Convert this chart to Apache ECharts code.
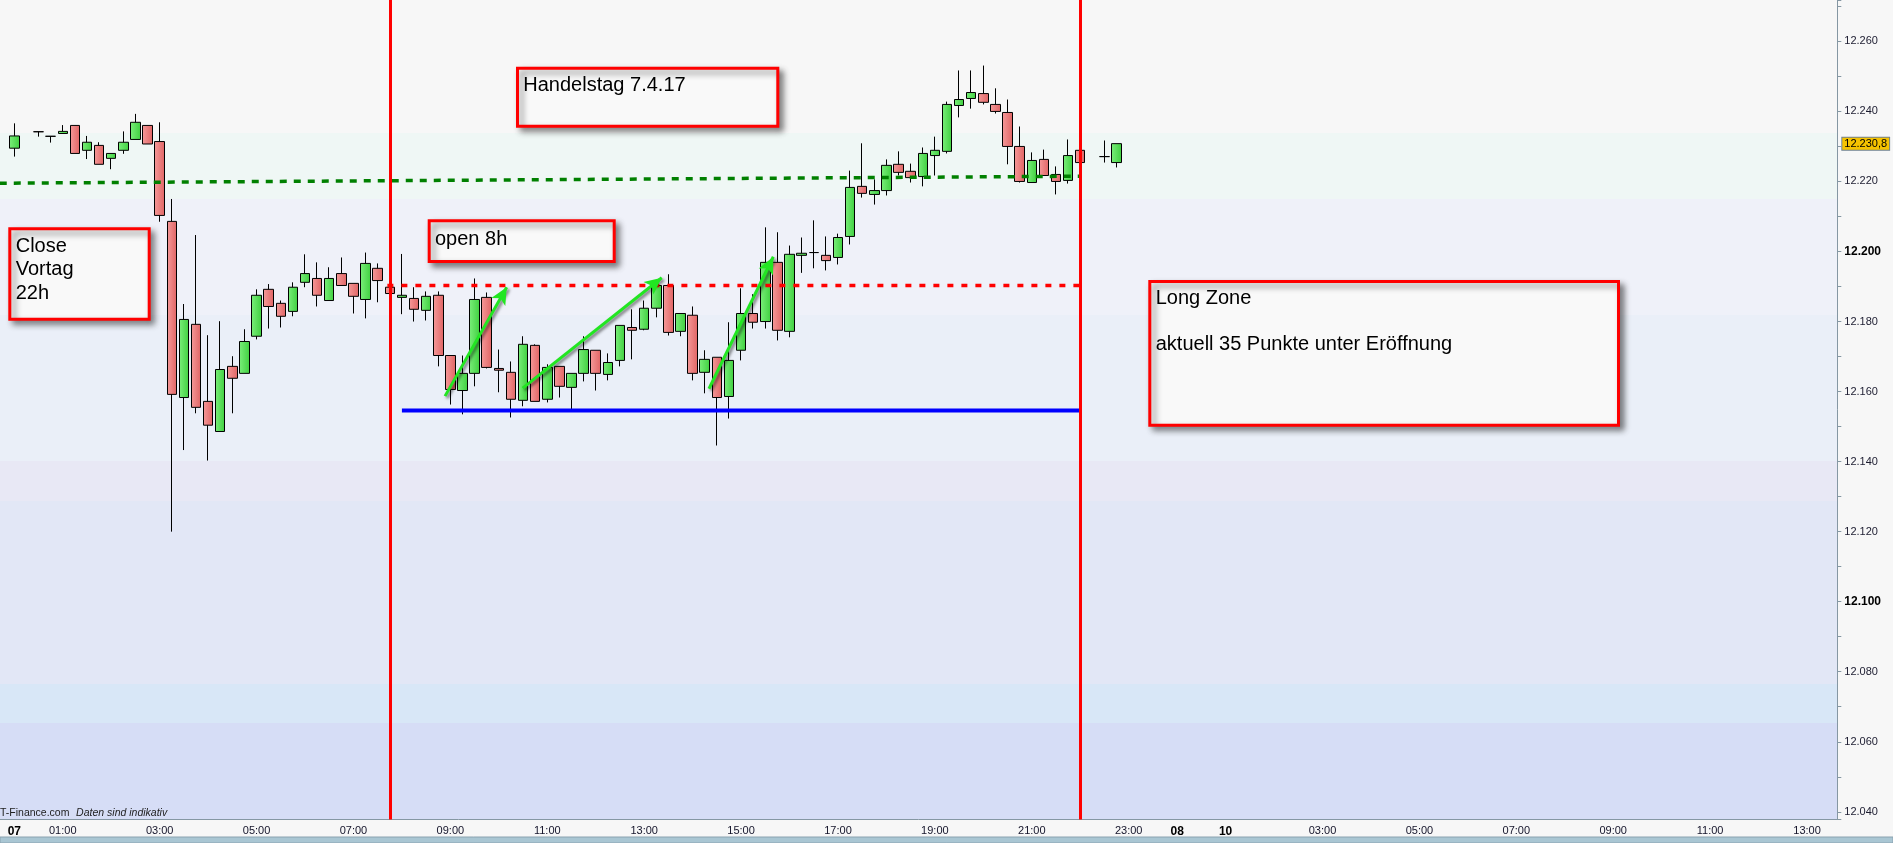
<!DOCTYPE html>
<html>
<head>
<meta charset="utf-8">
<title>Handelstag 7.4.17</title>
<script src="https://cdn.jsdelivr.net/npm/echarts@6/dist/echarts.min.js"></script>
<style>
  html, body { margin: 0; padding: 0; background: #f7f7f7; }
  #chart { width: 1893px; height: 843px; }
</style>
</head>
<body>
<div id="chart"></div>
<script>
// 15-Minuten-Kerzen 7.4.17
const candleTimes = [
  '00:00', '00:30', '00:45', '01:00', '01:15', '01:30', '01:45', '02:00', '02:15', '02:30', '02:45',
  '03:00', '03:15', '03:30', '03:45', '04:00', '04:15', '04:30', '04:45',
  '05:00', '05:15', '05:30', '05:45', '06:00', '06:15', '06:30', '06:45',
  '07:00', '07:15', '07:30', '07:45', '08:00', '08:15', '08:30', '08:45',
  '09:00', '09:15', '09:30', '09:45', '10:00', '10:15', '10:30', '10:45',
  '11:00', '11:15', '11:30', '11:45', '12:00', '12:15', '12:30', '12:45',
  '13:00', '13:15', '13:30', '13:45', '14:00', '14:15', '14:30', '14:45',
  '15:00', '15:15', '15:30', '15:45', '16:00', '16:15', '16:30', '16:45',
  '17:00', '17:15', '17:30', '17:45', '18:00', '18:15', '18:30', '18:45',
  '19:00', '19:15', '19:30', '19:45', '20:00', '20:15', '20:30', '20:45',
  '21:00', '21:15', '21:30', '21:45', '22:00', '22:30', '22:45'
]
const opens = [
  12229.5, 12234.2, 12232.9, 12233.7, 12236.0, 12228.9, 12230.3, 12226.6, 12228.9, 12232.0, 12236.0,
  12231.4, 12208.6, 12158.3, 12179.2, 12157.2, 12148.6, 12167.2, 12165.2,
  12175.8, 12189.2, 12185.2, 12182.9, 12191.2, 12192.3, 12186.0, 12193.7,
  12190.9, 12186.3, 12195.2, 12189.8, 12186.9, 12186.6, 12183.2, 12187.5,
  12170.3, 12160.3, 12165.2, 12186.9, 12166.6, 12165.5, 12157.5, 12173.2,
  12157.8, 12167.2, 12161.2, 12165.2, 12171.8, 12164.9, 12168.9, 12178.3,
  12177.8, 12183.8, 12190.3, 12177.2, 12181.8, 12165.5, 12169.8, 12158.6,
  12171.8, 12182.3, 12180.0, 12196.9, 12177.2, 12198.9, 12199.7, 12198.9,
  12198.3, 12204.3, 12218.6, 12216.3, 12217.4, 12224.9, 12222.9, 12221.4,
  12227.4, 12228.6, 12241.7, 12243.7, 12245.1, 12242.0, 12239.7, 12230.0,
  12219.7, 12226.3, 12222.0, 12220.3, 12228.9, 12227.1, 12225.4
]
const closes = [
  12233.0, 12234.2, 12232.9, 12234.3, 12228.0, 12231.2, 12224.9, 12228.0, 12231.2, 12236.9, 12230.7,
  12210.3, 12159.2, 12180.6, 12155.5, 12150.4, 12166.3, 12163.8, 12174.3,
  12187.5, 12184.3, 12181.5, 12189.8, 12193.7, 12187.5, 12192.3, 12190.3,
  12187.2, 12196.6, 12191.7, 12188.0, 12187.5, 12183.5, 12187.2, 12170.3,
  12160.6, 12165.2, 12186.3, 12166.9, 12166.1, 12157.8, 12173.5, 12157.2,
  12166.9, 12161.5, 12165.2, 12172.0, 12165.2, 12168.3, 12178.9, 12177.5,
  12183.8, 12190.3, 12176.9, 12182.3, 12165.2, 12169.2, 12158.3, 12168.9,
  12182.3, 12179.8, 12196.9, 12177.5, 12199.2, 12199.5, 12199.7, 12197.4,
  12204.0, 12218.3, 12216.6, 12217.4, 12224.6, 12222.6, 12221.1, 12228.0,
  12228.9, 12242.0, 12243.4, 12245.4, 12242.6, 12240.0, 12230.0, 12220.0,
  12226.0, 12221.7, 12220.0, 12227.4, 12225.4, 12227.1, 12230.8
]
const lows = [
  12227.1, 12232.8, 12231.1, 12233.7, 12228.0, 12226.4, 12224.9, 12223.5, 12227.9, 12232.0, 12230.7,
  12208.5, 12120.0, 12143.3, 12153.8, 12140.3, 12148.6, 12153.8, 12165.2,
  12174.9, 12178.0, 12178.3, 12181.5, 12189.8, 12184.3, 12186.0, 12190.3,
  12182.3, 12180.9, 12185.5, 12187.5, 12182.1, 12180.0, 12180.3, 12167.2,
  12156.3, 12153.5, 12161.5, 12166.6, 12159.8, 12152.6, 12155.8, 12157.2,
  12156.9, 12158.3, 12154.9, 12162.9, 12160.3, 12163.2, 12167.2, 12169.2,
  12177.5, 12181.2, 12176.0, 12175.8, 12163.2, 12159.5, 12144.6, 12152.3,
  12168.9, 12178.0, 12178.0, 12174.6, 12175.5, 12193.9, 12195.2, 12194.6,
  12196.3, 12202.0, 12215.4, 12213.4, 12216.0, 12221.7, 12219.7, 12218.6,
  12221.7, 12228.0, 12238.3, 12240.8, 12242.0, 12239.4, 12224.9, 12219.7,
  12219.7, 12221.7, 12216.3, 12219.4, 12225.0, 12225.4, 12224.0
]
const highs = [
  12236.6, 12234.2, 12232.9, 12236.1, 12236.0, 12233.0, 12231.2, 12228.0, 12234.3, 12239.3, 12236.0,
  12236.9, 12215.0, 12185.0, 12204.7, 12176.1, 12180.1, 12170.1, 12177.8,
  12189.2, 12190.7, 12186.0, 12191.2, 12199.2, 12196.9, 12195.5, 12198.3,
  12190.9, 12199.7, 12196.6, 12190.5, 12199.3, 12189.8, 12188.6, 12188.6,
  12170.3, 12170.3, 12192.3, 12188.3, 12172.0, 12168.6, 12175.8, 12173.5,
  12167.8, 12167.2, 12165.2, 12175.8, 12171.8, 12170.9, 12178.9, 12183.5,
  12186.0, 12191.8, 12193.5, 12182.3, 12184.3, 12171.8, 12169.8, 12179.8,
  12189.5, 12187.8, 12206.9, 12205.5, 12201.7, 12204.0, 12208.9, 12204.3,
  12205.1, 12223.1, 12230.9, 12220.6, 12226.3, 12228.6, 12225.1, 12229.7,
  12232.8, 12242.8, 12251.7, 12251.7, 12253.1, 12246.6, 12243.4, 12235.7,
  12228.3, 12229.1, 12224.3, 12232.0, 12229.5, 12231.7, 12230.8
]

// Zeitachse: 15-Minuten-Slots ab 7.4. 00:00, Wochenende uebersprungen
const firstSlot = -1
const lastSlot = 150
const xTickSlots = [0, 4, 12, 20, 28, 36, 44, 52, 60, 68, 76, 84, 92, 96, 100, 108, 116, 124, 132, 140, 148]
const xTickLabels = ['07', '01:00', '03:00', '05:00', '07:00', '09:00', '11:00', '13:00', '15:00', '17:00',
  '19:00', '21:00', '23:00', '08', '10', '03:00', '05:00', '07:00', '09:00', '11:00', '13:00']
const dayLabels = ['07', '08', '10']

// Linien und Pfeile (x in Slots, y in Punkten)
const prevCloseLine = [[-1.2, 12219.5], [88, 12221.5]]
const openLine = [[30.8, 12190.3], [88, 12190.3]]
const supportLine = [[32, 12154.6], [88, 12154.6]]
const sessionMarks = [31, 88]
const arrowsFrom = [[35.56, 12158.7], [41.97, 12161.0], [57.35, 12160.8]]
const arrowsTo = [[40.65, 12189.8], [53.45, 12192.5], [62.66, 12198.5]]
const lastPrice = 12230.8

const FONT = '"Liberation Sans", Arial, sans-serif'

const slotOf = (t) => {
  const [h, m] = t.split(':').map(Number)
  return h * 4 + m / 15
}

const categories = []
for (let s = firstSlot; s <= lastSlot; s++) categories.push(String(s))

const tickMap = {}
xTickSlots.forEach((s, i) => { tickMap[String(s)] = xTickLabels[i] })

const candles = candleTimes.map((t, i) => [String(slotOf(t)), opens[i], closes[i], lows[i], highs[i]])

function formatPrice(v, decimals) {
  const fixed = v.toFixed(decimals || 0)
  const [int, dec] = fixed.split('.')
  const grouped = int.replace(/\B(?=(\d{3})+(?!\d))/g, '.')
  return dec ? grouped + ',' + dec : grouped
}

const slotWidth = 12.113
const nCats = lastSlot - firstSlot + 1
const gridLeft = 14.3 - 1.5 * slotWidth

const chart = echarts.init(document.getElementById('chart'), null, { renderer: 'canvas' })

function noteBox(x, y, w, h, text, tx, ty, lineHeight) {
  return {
    type: 'group',
    z: 100,
    children: [
      {
        type: 'rect',
        shape: { x: x, y: y, width: w, height: h },
        style: {
          fill: '#f9f9f9',
          stroke: '#ff0000',
          lineWidth: 3,
          shadowBlur: 6,
          shadowOffsetX: 4,
          shadowOffsetY: 4,
          shadowColor: 'rgba(0,0,0,0.45)'
        }
      },
      {
        type: 'text',
        style: {
          x: tx,
          y: ty,
          text: text,
          font: '20px ' + FONT,
          fill: '#000',
          lineHeight: lineHeight,
          verticalAlign: 'top'
        }
      }
    ]
  }
}

chart.setOption({
  backgroundColor: '#f7f7f7',
  animation: false,
  grid: {
    left: gridLeft,
    top: 0,
    width: nCats * slotWidth,
    height: 819.5,
    show: true,
    borderWidth: 0,
    outerBoundsMode: 'none',
    backgroundColor: {
      type: 'linear', x: 0, y: 0, x2: 0, y2: 1,
      colorStops: [
        { offset: 0, color: '#f7f7f7' }, { offset: 0.1627, color: '#f7f7f7' },
        { offset: 0.1627, color: '#eff7f5' }, { offset: 0.2428, color: '#eff7f5' },
        { offset: 0.2428, color: '#eff1f9' }, { offset: 0.3838, color: '#eff1f9' },
        { offset: 0.3838, color: '#eaeff8' }, { offset: 0.5623, color: '#eaeff8' },
        { offset: 0.5623, color: '#e8e8f5' }, { offset: 0.6113, color: '#e8e8f5' },
        { offset: 0.6113, color: '#e2e7f6' }, { offset: 0.8347, color: '#e2e7f6' },
        { offset: 0.8347, color: '#d8e7f7' }, { offset: 0.8822, color: '#d8e7f7' },
        { offset: 0.8822, color: '#d6ddf6' }, { offset: 1, color: '#d6ddf6' }
      ]
    }
  },
  xAxis: [
    {
      type: 'category',
      data: categories,
      boundaryGap: true,
      axisLine: { onZero: false, lineStyle: { color: '#8597a3', width: 1 } },
      axisTick: {
        alignWithLabel: true,
        length: 3,
        interval: (idx, val) => tickMap[val] !== undefined,
        lineStyle: { color: '#8597a3' }
      },
      axisLabel: {
        interval: (idx, val) => tickMap[val] !== undefined,
        margin: 6,
        fontFamily: FONT,
        fontSize: 11,
        color: '#14142a',
        formatter: (val) => {
          const l = tickMap[val]
          if (l === undefined) return ''
          return dayLabels.indexOf(l) >= 0 ? '{d|' + l + '}' : l
        },
        rich: {
          d: { fontFamily: FONT, fontSize: 12, fontWeight: 'bold', color: '#000' }
        }
      },
      splitLine: { show: false }
    },
    {
      type: 'value',
      show: false,
      min: firstSlot - 0.5,
      max: lastSlot + 0.5
    }
  ],
  yAxis: {
    type: 'value',
    position: 'right',
    min: 12037.8,
    max: 12271.82,
    splitNumber: 12,
    minInterval: 20,
    maxInterval: 20,
    axisLine: { show: true, onZero: false, lineStyle: { color: '#8597a3', width: 1 } },
    axisTick: { show: true, length: 4, lineStyle: { color: '#8597a3' } },
    minorTick: { show: true, splitNumber: 2, length: 4, lineStyle: { color: '#8597a3' } },
    splitLine: { show: false },
    axisLabel: {
      showMinLabel: false,
      showMaxLabel: false,
      margin: 7,
      fontFamily: FONT,
      fontSize: 11,
      color: '#1c1c30',
      formatter: (v) => {
        const s = formatPrice(v)
        return v % 100 === 0 ? '{b|' + s + '}' : s
      },
      rich: {
        b: { fontFamily: FONT, fontSize: 12, fontWeight: 'bold', color: '#000' }
      }
    }
  },
  series: [
    {
      type: 'candlestick',
      xAxisIndex: 0,
      barWidth: 10,
      encode: { x: 0, y: [1, 2, 3, 4] },
      data: candles,
      itemStyle: {
        color: {
          type: 'linear', x: 0, y: 0, x2: 1, y2: 0,
          colorStops: [{ offset: 0, color: '#7bef7b' }, { offset: 1, color: '#3fcf3f' }]
        },
        color0: {
          type: 'linear', x: 0, y: 0, x2: 1, y2: 0,
          colorStops: [{ offset: 0, color: '#f59a9a' }, { offset: 1, color: '#e06464' }]
        },
        borderColor: '#000',
        borderColor0: '#000',
        borderColorDoji: '#000',
        borderWidth: 1
      },
      markLine: {
        silent: true,
        symbol: 'none',
        lineStyle: { color: 'rgba(0,0,0,0)', width: 1 },
        label: {
          show: true,
          position: 'end',
          distance: 5,
          formatter: () => formatPrice(lastPrice, 1),
          fontFamily: FONT,
          fontSize: 11,
          color: '#000',
          backgroundColor: '#f6c300',
          borderColor: '#6f8190',
          borderWidth: 1,
          padding: [1, 2, 0, 2]
        },
        data: [{ yAxis: lastPrice }]
      }
    },
    {
      type: 'line',
      xAxisIndex: 1,
      z: 4,
      silent: true,
      symbol: 'none',
      data: prevCloseLine,
      lineStyle: { color: '#008000', width: 3.5, type: [7, 7] }
    },
    {
      type: 'line',
      xAxisIndex: 1,
      z: 4,
      silent: true,
      symbol: 'none',
      data: openLine,
      lineStyle: { color: '#ff0000', width: 3.5, type: [6, 8] }
    },
    {
      type: 'line',
      xAxisIndex: 1,
      z: 4,
      silent: true,
      symbol: 'none',
      data: supportLine,
      lineStyle: { color: '#0000ff', width: 4 }
    },
    {
      type: 'line',
      xAxisIndex: 1,
      z: 5,
      silent: true,
      symbol: 'none',
      data: [],
      markLine: {
        silent: true,
        symbol: 'none',
        label: { show: false },
        lineStyle: { color: '#ff0000', width: 3, type: 'solid' },
        data: sessionMarks.map((s) => ({ xAxis: s }))
      }
    },
    {
      type: 'line',
      xAxisIndex: 1,
      z: 6,
      silent: true,
      symbol: 'none',
      data: [],
      markLine: {
        silent: true,
        symbol: ['none', 'arrow'],
        symbolSize: [12, 17],
        label: { show: false },
        lineStyle: {
          color: '#22e622',
          width: 3,
          type: 'solid',
          shadowColor: 'rgba(0,0,0,0.5)',
          shadowBlur: 3,
          shadowOffsetX: 2,
          shadowOffsetY: 2
        },
        data: arrowsFrom.map((p, i) => [{ coord: p }, { coord: arrowsTo[i] }])
      }
    }
  ],
  graphic: [
    noteBox(9.8, 228.8, 139.4, 90.4, 'Close\nVortag\n22h', 15.7, 234.5, 23.4),
    noteBox(429.2, 220.8, 185, 40.7, 'open 8h', 435, 227.6, 23.4),
    noteBox(517.5, 68.2, 260.3, 58, 'Handelstag 7.4.17', 523.3, 74, 23.4),
    noteBox(1149.8, 281.5, 468.7, 143.7, 'Long Zone\n\naktuell 35 Punkte unter Eröffnung', 1155.7, 286.9, 22.85),
    {
      type: 'text',
      z: 100,
      style: {
        x: 0,
        y: 812.7,
        text: '{a|T-Finance.com}  {b|Daten sind indikativ}',
        verticalAlign: 'middle',
        rich: {
          a: { fontFamily: FONT, fontSize: 10.5, fill: '#222' },
          b: { fontFamily: FONT, fontSize: 10.5, fontStyle: 'italic', fill: '#222' }
        }
      }
    },
    {
      type: 'rect',
      z: 100,
      shape: { x: 0, y: 837, width: 1893, height: 6 },
      style: { fill: '#a9c6d3', stroke: '#8aa2b0', lineWidth: 1 }
    }
  ]
})
</script>
</body>
</html>
